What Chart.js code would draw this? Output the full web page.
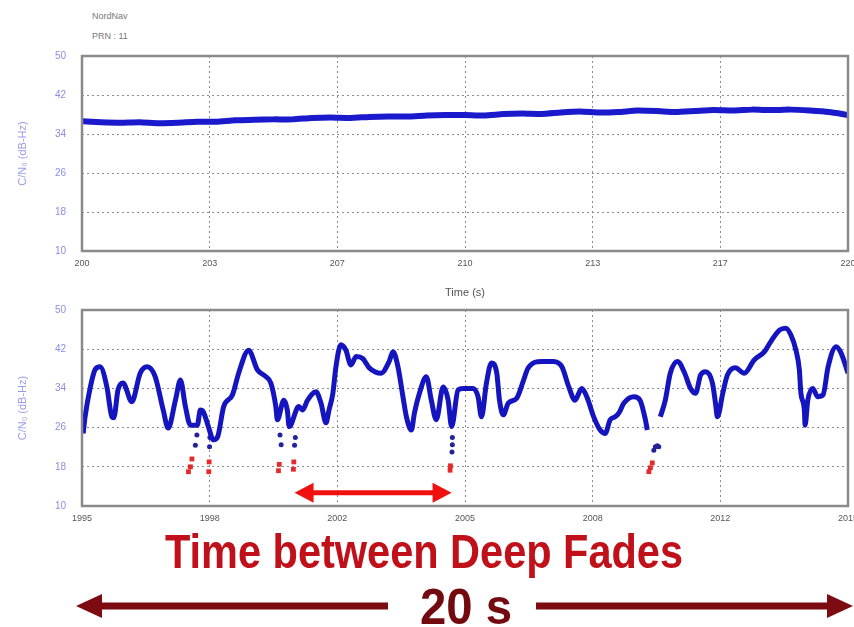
<!DOCTYPE html>
<html>
<head>
<meta charset="utf-8">
<script src="https://cdn.jsdelivr.net/npm/chart.js@4/dist/chart.umd.min.js"></script>
<style>
  body { margin: 0; background: #fff; width: 854px; height: 627px; overflow: hidden; position: relative; font-family: "Liberation Sans", Arial, sans-serif; }
  .plot { position: absolute; left: 0; width: 870px; }
  #topPlot { top: 0; height: 300px; }
  #lowPlot { top: 288px; height: 242px; }
  .hdr { position: absolute; left: 92px; font-size: 9px; color: #777; line-height: 10px; }
  .big { position: absolute; font-family: "Liberation Sans Narrow", "Liberation Sans", sans-serif; font-weight: bold; line-height: 1; white-space: nowrap; transform-origin: 0 0; }
  #caption { left: 165px; top: 528px; font-size: 48px; color: #c0101a; }
  #span { left: 420px; top: 582px; font-size: 50px; color: #720a10; }
  #spanArrows { position: absolute; left: 0; top: 580px; }
</style>
</head>
<body>
<div class="hdr" style="top:11px">NordNav</div>
<div class="hdr" style="top:31px">PRN : 11</div>
<div class="plot" id="topPlot"><canvas id="topChart"></canvas></div>
<div class="plot" id="lowPlot"><canvas id="lowChart"></canvas></div>
<div class="big" id="caption">Time between Deep Fades</div>
<div class="big" id="span">20 s</div>
<svg id="spanArrows" width="854" height="47">
  <line x1="96" y1="26" x2="388" y2="26" stroke="#7d0b12" stroke-width="7"/>
  <polygon points="76,26 102,14 102,38" fill="#7d0b12"/>
  <line x1="536" y1="26" x2="832" y2="26" stroke="#7d0b12" stroke-width="7"/>
  <polygon points="853,26 827,14 827,38" fill="#7d0b12"/>
</svg>
<script>
// C/N0 over 200-220 s: steady signal
const topTime = [200, 200.5, 201, 201.5, 202, 202.5, 203, 203.5, 204, 204.5, 205, 205.5, 206, 206.5, 207, 207.5,
  208, 208.5, 209, 209.5, 210, 210.5, 211, 211.5, 212, 212.5, 213, 213.5, 214, 214.5, 215, 215.5, 216, 216.5,
  217, 217.5, 218, 218.5, 219, 219.5, 220];
const topCN0 = [36.6, 36.4, 36.3, 36.4, 36.2, 36.3, 36.5, 36.5, 36.8, 36.9, 37.0, 37.0, 37.3, 37.4, 37.3, 37.5,
  37.6, 37.6, 37.8, 37.9, 37.9, 37.8, 38.1, 38.2, 38.1, 38.4, 38.6, 38.4, 38.5, 38.8, 38.7, 38.5, 38.7, 38.9,
  38.8, 39.0, 38.9, 39.0, 38.8, 38.5, 37.9];
const topTickLabels = ['200', '203', '207', '210', '213', '217', '220'];

// C/N0 over 1995-2015 s: scintillation with deep fades
const lowTime = [1995.03, 1995.08, 1995.21, 1995.34, 1995.47, 1995.65, 1995.78, 1995.83, 1995.94, 1996.07,
  1996.30, 1996.52, 1996.70, 1996.91, 1997.12, 1997.25, 1997.44, 1997.57, 1997.70, 1997.83, 1998.01, 1998.09,
  1998.17, 1998.30, 1998.43, 1998.54, 1998.70, 1998.93, 1999.09, 1999.35, 1999.58, 1999.80, 1999.93, 2000.06,
  2000.10, 2000.27, 2000.36, 2000.41, 2000.66, 2000.76, 2000.89, 2001.11, 2001.24, 2001.37, 2001.45, 2001.55,
  2001.63, 2001.76, 2001.89, 2002.02, 2002.16, 2002.33, 2002.50, 2002.81, 2003.02, 2003.12, 2003.25, 2003.38,
  2003.47, 2003.60, 2003.68, 2003.81, 2003.99, 2004.12, 2004.25, 2004.43, 2004.56, 2004.65, 2004.82, 2004.95,
  2005.21, 2005.34, 2005.43, 2005.56, 2005.69, 2005.83, 2005.90, 2006.00, 2006.13, 2006.35, 2006.53, 2006.65,
  2007.00, 2007.31, 2007.53, 2007.71, 2007.87, 2008.05, 2008.18, 2008.36, 2008.53, 2008.66, 2008.79, 2008.92,
  2009.02, 2009.15, 2009.41, 2009.57, 2009.71, 2009.76, 2009.90, 2010.10, 2010.23, 2010.36, 2010.55, 2010.72,
  2010.89, 2011.02, 2011.15, 2011.28, 2011.46, 2011.54, 2011.59, 2011.73, 2011.85, 2012.06, 2012.29, 2012.55,
  2012.82, 2012.98, 2013.21, 2013.37, 2013.51, 2013.64, 2013.73, 2013.77, 2013.86, 2013.88, 2013.95, 2014.08,
  2014.21, 2014.35, 2014.48, 2014.69, 2014.82, 2015.00];
const lowCN0 = [24.8, 28.2, 34.0, 37.8, 38.4, 34.3, 28.2, 28.0, 33.7, 35.1,
  31.3, 37.1, 38.4, 36.4, 29.6, 25.9, 31.6, 35.7, 30.3, 26.5, 26.5, 29.6,
  29.2, 26.2, 23.5, 24.1, 30.3, 32.7, 37.1, 41.8, 37.8, 36.4, 35.1, 30.3,
  27.6, 31.6, 29.6, 26.2, 30.3, 29.6, 31.6, 33.3, 31.0, 27.0, 29.6, 33.0,
  38.4, 42.9, 41.8, 38.8, 40.5, 40.1, 38.2, 37.1, 39.5, 41.5, 38.4, 32.3,
  28.2, 25.5, 29.0, 33.0, 36.4, 31.6, 27.6, 34.3, 31.6, 26.2, 33.7, 34.0,
  34.0, 32.3, 28.2, 35.1, 39.2, 37.1, 31.6, 28.6, 31.0, 32.0, 35.7, 38.2,
  39.5, 39.5, 38.4, 34.3, 31.6, 34.0, 32.3, 28.2, 25.5, 24.8, 27.6, 28.2,
  29.0, 31.0, 32.3, 31.6, 27.6, 25.5, null, 28.2, 31.6, 37.1, 39.5, 37.4,
  34.0, 33.0, 36.7, 37.4, 35.1, 31.0, 28.2, 33.0, 36.7, 38.2, 37.1, 39.8,
  41.5, 43.5, 45.9, 46.3, 44.9, 41.8, 37.8, 33.0, 29.6, 26.5, 31.6, 34.0,
  32.3, 32.7, 38.4, 42.5, 41.2, 37.1];

// sparse samples while the signal drops into a fade
const dropTime = [1997.96, 1998.00, 1998.33, 1998.34, 2000.17, 2000.20, 2000.55, 2000.57, 2004.66, 2004.67,
  2004.67, 2009.93, 2009.97, 2010.02, 2010.06];
const dropCN0 = [22.4, 24.5, 22.1, 24.0, 24.5, 22.5, 22.4, 24.0, 21.0, 22.5,
  24.0, 21.4, 22.1, 22.3, 22.1];

// samples below the 20 dB-Hz threshold
const deepTime = [1997.78, 1997.83, 1997.87, 1998.31, 1998.32, 2000.13, 2000.15, 2000.52, 2000.53, 2004.61,
  2004.62, 2009.80, 2009.84, 2009.89];
const deepCN0 = [17.0, 18.0, 19.6, 17.0, 19.0, 17.2, 18.5, 17.5, 19.0, 17.3,
  18.2, 17.0, 17.8, 18.8];

const lowTickLabels = ['1995', '1998', '2002', '2005', '2008', '2012', '2015'];

// time between two deep fades, marked inside the lower plot
const fadeGapStart = 2000.55;
const fadeGapEnd = 2004.65;
const fadeGapLevel = 12.7;

const pts = (xs, ys) => xs.map((x, i) => ({ x: x, y: ys[i] }));

const framePlugin = {
  id: 'frame',
  afterDraw(chart) {
    const a = chart.chartArea, ctx = chart.ctx;
    ctx.save();
    ctx.strokeStyle = '#8a8a8a';
    ctx.lineWidth = 2.5;
    ctx.strokeRect(a.left, a.top, a.right - a.left, a.bottom - a.top);
    ctx.restore();
  }
};

const gapArrowPlugin = {
  id: 'gapArrow',
  afterDatasetsDraw(chart) {
    const xs = chart.scales.x, ys = chart.scales.y, ctx = chart.ctx;
    const x1 = xs.getPixelForValue(fadeGapStart), x2 = xs.getPixelForValue(fadeGapEnd);
    const y = ys.getPixelForValue(fadeGapLevel);
    ctx.save();
    ctx.fillStyle = '#f01010';
    ctx.strokeStyle = '#f01010';
    ctx.lineWidth = 5;
    ctx.beginPath();
    ctx.moveTo(x1 + 12, y);
    ctx.lineTo(x2 - 12, y);
    ctx.stroke();
    ctx.beginPath();
    ctx.moveTo(x1, y); ctx.lineTo(x1 + 19, y - 10); ctx.lineTo(x1 + 19, y + 10); ctx.closePath();
    ctx.moveTo(x2, y); ctx.lineTo(x2 - 19, y - 10); ctx.lineTo(x2 - 19, y + 10); ctx.closePath();
    ctx.fill();
    ctx.restore();
  }
};

function timeAxis(min, max, labels, height, withTitle) {
  return {
    type: 'linear', min: min, max: max,
    afterBuildTicks(s) {
      s.ticks = labels.map((_, i) => ({ value: min + i * (max - min) / (labels.length - 1) }));
    },
    afterFit(s) { s.height = height; },
    ticks: {
      color: '#555', font: { size: 9, family: 'Liberation Sans' }, padding: 7, maxRotation: 0,
      callback: (v, i) => labels[i]
    },
    grid: { color: '#8c8c8c', lineWidth: 1, drawTicks: false },
    border: { display: false, dash: [2, 3] },
    title: {
      display: withTitle, text: 'Time (s)', color: '#555',
      font: { size: 11, family: 'Liberation Sans' }, padding: { top: 4, bottom: 0 }
    }
  };
}

function cn0Axis() {
  return {
    min: 10, max: 50,
    afterFit(s) { s.width = 82; },
    ticks: { stepSize: 8, color: '#8c8ce6', font: { size: 10, family: 'Liberation Sans' }, padding: 16 },
    grid: { color: '#8c8c8c', lineWidth: 1, drawTicks: false },
    border: { display: false, dash: [2, 3] },
    title: {
      display: true, text: 'C/N₀ (dB-Hz)', color: '#9a9ae8',
      font: { size: 11, family: 'Liberation Sans' }, padding: { top: 16, bottom: 0 }
    }
  };
}

new Chart('topChart', {
  type: 'line',
  data: {
    datasets: [{
      label: 'C/N0',
      data: pts(topTime, topCN0),
      borderColor: '#1a1acc',
      borderWidth: 6,
      pointRadius: 0,
      tension: 0.2
    }]
  },
  options: {
    responsive: true,
    maintainAspectRatio: false,
    animation: false,
    layout: { padding: { top: 56, right: 22, left: 0, bottom: 0 } },
    plugins: { legend: { display: false }, tooltip: { enabled: false } },
    scales: { x: timeAxis(200, 220, topTickLabels, 49, true), y: cn0Axis() }
  },
  plugins: [framePlugin]
});

// the y tick padding also pads the top of the plot area by 22px
new Chart('lowChart', {
  type: 'line',
  data: {
    datasets: [{
      label: 'C/N0',
      data: pts(lowTime, lowCN0),
      borderColor: '#1515c0',
      borderWidth: 5,
      pointRadius: 0,
      cubicInterpolationMode: 'monotone',
      spanGaps: false
    }, {
      label: 'fade onset',
      data: pts(dropTime, dropCN0),
      showLine: false,
      pointRadius: 2.5,
      pointBackgroundColor: '#22229a',
      pointBorderWidth: 0
    }, {
      label: 'below threshold',
      data: pts(deepTime, deepCN0),
      showLine: false,
      pointStyle: 'rect',
      pointRadius: 3.4,
      pointBackgroundColor: '#e42a2a',
      pointBorderWidth: 0
    }]
  },
  options: {
    responsive: true,
    maintainAspectRatio: false,
    animation: false,
    layout: { padding: { top: 0, right: 22, left: 0, bottom: 0 } },
    plugins: { legend: { display: false }, tooltip: { enabled: false } },
    scales: { x: timeAxis(1995, 2015, lowTickLabels, 24, false), y: cn0Axis() }
  },
  plugins: [framePlugin, gapArrowPlugin]
});

// squeeze the big labels into a narrow face
function fitWidth(id, width) {
  const el = document.getElementById(id);
  const w = el.getBoundingClientRect().width;
  el.style.transform = 'scaleX(' + (width / w) + ')';
}
fitWidth('caption', 518);
fitWidth('span', 92);
</script>
</body>
</html>
